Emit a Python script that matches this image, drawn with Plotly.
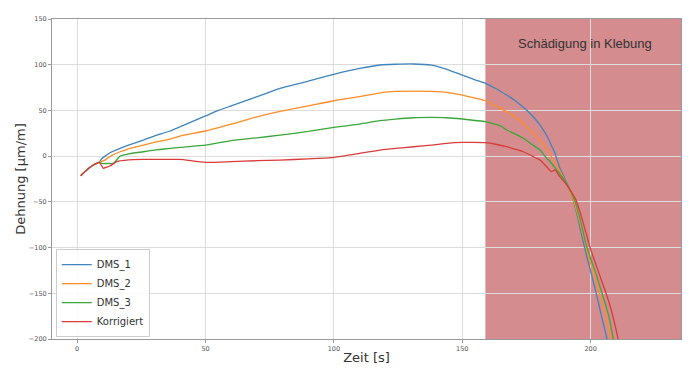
import plotly.graph_objects as go

# ---- data ----
t_dms1 = [1.4, 3.7, 6.3, 8.6, 9.5, 10.9, 13, 16.7, 20, 25.8, 30, 36.2, 40, 45, 50, 55, 60, 66, 72, 79, 85, 90,
          95, 100, 105, 110, 118, 124, 131, 138, 144, 150, 155, 159, 163, 167.3, 170, 173.8, 177, 180.3, 183,
          185, 186, 188, 190, 192, 194, 196, 198, 200, 202, 204, 206.4, 208]
y_dms1 = [-21.4, -15.2, -9.7, -6.8, -3, 0, 4, 8.5, 12, 17.6, 22, 27.5, 32, 38, 44, 50, 55, 61, 67, 74, 78.5, 82,
          86, 89.5, 93, 96, 99.7, 100.5, 100.8, 99.5, 95, 88.7, 83.5, 79.6, 74, 66.8, 62, 53.4, 45, 34, 22,
          10, 4, -13, -25, -38, -56, -80, -104, -126, -148, -172, -200, -220]

t_dms2 = [1.4, 3.7, 6.3, 8.6, 10.9, 13, 16.7, 20, 25.8, 30, 36.2, 40, 50, 60, 70, 79, 90, 100, 110, 118, 124,
          131, 138, 144, 150, 155, 159, 163, 167.3, 170, 173.8, 177, 180.3, 183, 185.5, 188, 190.6, 193, 195,
          197, 199, 201, 203, 205.5, 208, 209.5]
y_dms2 = [-21.4, -15.2, -9.7, -6.8, -4.3, 0, 4.8, 8, 12, 15, 18.5, 22, 27.5, 35, 43, 49, 55, 60.6, 65, 69.2, 70.8,
          71.2, 70.8, 69.8, 66.8, 63.5, 60.6, 55, 48.6, 44, 35.8, 27, 17.6, 7, -4, -16, -30, -46, -64,
          -86, -108, -126, -146, -172, -200, -220]

t_dms3 = [1.4, 3.7, 6.3, 8.6, 9.6, 12, 14.1, 16.7, 20, 25.8, 30, 36.2, 40, 50, 60, 70, 79, 90, 100, 110, 118,
          124, 131, 138, 144, 150, 155, 159, 165, 167.3, 170, 173.8, 177, 180.3, 182.9, 184, 186.8, 190, 192,
          194, 196, 198, 200, 202, 204, 206, 207.5, 208.8, 210]
y_dms3 = [-21.4, -15.2, -9.7, -6.8, -8, -8, -8, 0, 2.5, 4.8, 6.5, 8.5, 9.6, 12, 17, 20, 23, 27, 31.5, 35, 38.8,
          40.5, 42, 42.3, 42, 40.6, 39, 37.7, 33, 28.6, 25, 19.5, 13, 6.7, -2.4, -5, -15.2, -27, -37,
          -50, -70, -94, -112, -128, -146, -164, -180, -200, -215]

t_korr = [1.4, 3.7, 6.3, 8.6, 10.2, 11.5, 12.8, 15.4, 20, 25.8, 36.2, 40, 50, 60, 70, 79, 90, 100, 110, 118,
          124, 131, 138, 144, 150, 154, 159, 163, 167.3, 170, 173.8, 177, 180.3, 182.9, 184.8, 186.1, 188, 190,
          192, 194, 196, 198, 200, 202, 204, 206, 208, 209.5, 210.7, 212]
y_korr = [-21.4, -15.2, -9.7, -6.8, -13.3, -12, -10.8, -6, -4, -3.5, -3.5, -3.5, -6.8, -6, -5, -4.3, -3, -1.3,
          3, 6.7, 8.5, 10.3, 12, 14, 15, 15, 14.7, 13, 10.3, 8, 4.8, 0.5, -4.3, -11.6, -17, -15, -22.5,
          -29, -37, -46, -62, -82, -102, -118, -134, -150, -168, -185, -200, -215]

series_names = ["DMS_1", "DMS_2", "DMS_3", "Korrigiert"]
series_t = [t_dms1, t_dms2, t_dms3, t_korr]
series_y = [y_dms1, y_dms2, y_dms3, y_korr]
series_colors = ["#3f84bd", "#ff8c26", "#3aa63a", "#d93a3b"]

damage_start = 159
damage_end = 235.2
damage_label = "Schädigung in Klebung"

x_ticks = [0, 50, 100, 150, 200]
y_ticks = [150, 100, 50, 0, -50, -100, -150, -200]

fig = go.Figure()
for name, t, y, c in zip(series_names, series_t, series_y, series_colors):
    fig.add_trace(go.Scatter(x=t, y=y, mode="lines", name=name,
                             line=dict(color=c, width=1.3, shape="spline", smoothing=0.5)))

fig.add_shape(type="rect", xref="x", yref="paper", x0=damage_start, x1=damage_end, y0=0, y1=1,
              fillcolor="rgba(206,124,128,0.88)", line=dict(width=0), layer="between")

fig.add_annotation(x=197.8, y=123.7, xref="x", yref="y", text=damage_label, showarrow=False,
                   font=dict(family="Liberation Sans, Arial", size=13, color="#333333"))

# the page body adds an 8px offset; margins compensate so the plot area lands where the reference has it
fig.update_layout(
    width=700, height=376,
    margin=dict(l=44, r=27, t=11, b=45, autoexpand=False),
    paper_bgcolor="white", plot_bgcolor="white",
    font=dict(family="DejaVu Sans", color="#444444"),
    showlegend=True,
    legend=dict(x=0.006, y=0.006, xanchor="left", yanchor="bottom",
                bgcolor="rgba(255,255,255,0.85)", bordercolor="#cccccc", borderwidth=1,
                font=dict(size=10, color="#333333"), tracegroupgap=0, itemwidth=30),
)
fig.update_xaxes(range=[-9.8, 235.2], tickvals=x_ticks, showgrid=True, gridcolor="#dcdcdc", gridwidth=1,
                 showline=True, linecolor="#999999", linewidth=1, mirror=True, zeroline=False,
                 ticks="outside", ticklen=3, tickcolor="#999999",
                 tickfont=dict(size=6.5, color="#555555"),
                 title=dict(text="Zeit [s]", font=dict(size=13, color="#333333"), standoff=1))
fig.update_yaxes(range=[-200, 150], tickvals=y_ticks, showgrid=True, gridcolor="#dcdcdc", gridwidth=1,
                 showline=True, linecolor="#999999", linewidth=1, mirror=True, zeroline=False,
                 ticks="outside", ticklen=3, tickcolor="#999999",
                 tickfont=dict(size=6.5, color="#555555"),
                 title=dict(text="Dehnung [µm/m]", font=dict(size=13, color="#333333"), standoff=0))

fig.write_html("out.html")
